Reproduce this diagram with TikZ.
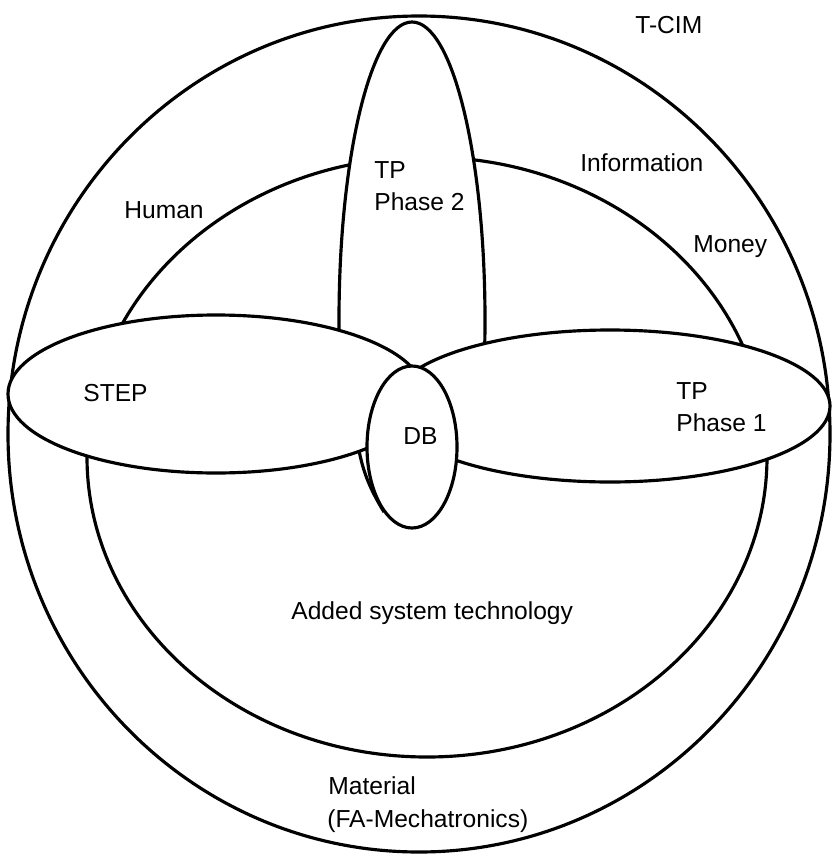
\documentclass[tikz,border=0pt]{standalone}
\usepackage{fontspec}
\setmainfont{Liberation Sans}
\usepackage{tikz}

\tikzset{
  lbl/.style={font=\fontsize{14}{17}\selectfont,anchor=base west,inner sep=0pt},
  ring/.style={draw,line width=1.8pt},
  blob/.style={draw,fill=white,line width=1.8pt}
}

\begin{document}
\begin{tikzpicture}[x=0.02cm,y=-0.02cm]
  \useasboundingbox (0,0) rectangle (832,862);

  % T-CIM and the inner ring
  \path[ring] (419,434) ellipse [x radius=411, y radius=418];
  \path[ring] (427,457) ellipse [x radius=340, y radius=300];

  % TP phase 2, lower end hidden behind the flat ones
  \begin{scope}
    \clip (300,0) rectangle (520,420);
    \path[blob] (412,320) ellipse [x radius=73, y radius=298];
  \end{scope}
  \draw[line width=1.8pt] (358,445) .. controls (362,468) and (368,486) .. (384,512);

  % STEP, TP phase 1 and DB
  \path[blob] (216,394) ellipse [x radius=208, y radius=79];
  \path[blob] (610,406) ellipse [x radius=220, y radius=76];
  \path[blob] (412,447) ellipse [x radius=45, y radius=81];

  % Labels
  \node[lbl] (tcim) at (635,33) {T-CIM};
  \node[lbl] (info) at (580,171) {Information};
  \node[lbl] (money) at (693,252) {Money};
  \node[lbl] (human) at (124,218) {Human};
  \node[lbl] (tptwo) at (374,178) {TP};
  \node[lbl] (phtwo) at (374,210) {Phase 2};
  \node[lbl] (step) at (83,401) {STEP};
  \node[lbl] (tpone) at (676,399) {TP};
  \node[lbl] (phone) at (676,431) {Phase 1};
  \node[lbl] (db) at (403,444) {DB};
  \node[lbl] (added) at (291,619) {Added system technology};
  \node[lbl] (mat) at (328,794) {Material};
  \node[lbl] (fa) at (327,827) {(FA-Mechatronics)};
\end{tikzpicture}
\end{document}
